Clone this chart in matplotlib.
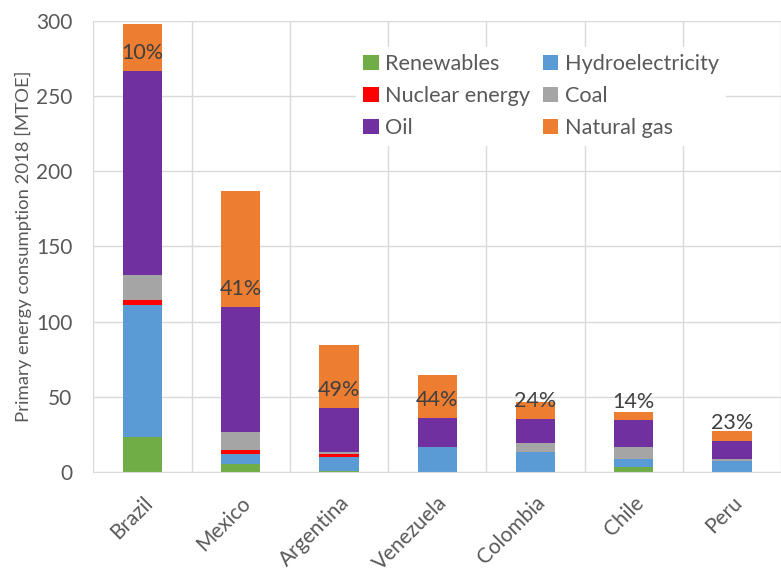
import numpy as np
import matplotlib
matplotlib.use("Agg")
import matplotlib.pyplot as plt
from matplotlib.patches import Patch

plt.rcParams["font.family"] = ["Lato", "DejaVu Sans"]

countries = ["Brazil", "Mexico", "Argentina", "Venezuela", "Colombia", "Chile", "Peru"]

# primary energy consumption 2018, MTOE
renewables = [23.5, 5.1, 0.6, 0.1, 0.2, 3.3, 0.3]
hydro = [87.5, 6.9, 9.5, 16.3, 13.3, 5.3, 7.2]
nuclear = [3.3, 2.6, 1.6, 0.0, 0.0, 0.0, 0.0]
coal = [16.6, 12.2, 1.4, 0.1, 5.8, 7.8, 0.9]
oil = [135.5, 83.0, 29.7, 19.4, 16.0, 17.9, 12.4]
gas = [31.1, 77.0, 41.8, 28.6, 11.3, 5.6, 6.2]

series = [
    ("Renewables", renewables, "#70AD47"),
    ("Hydroelectricity", hydro, "#5B9BD5"),
    ("Nuclear energy", nuclear, "#FF0000"),
    ("Coal", coal, "#A5A5A5"),
    ("Oil", oil, "#7030A0"),
    ("Natural gas", gas, "#ED7D31"),
]

text_col = "#595959"
grid_col = "#D9D9D9"

fig = plt.figure(figsize=(7.81, 5.71), dpi=100)
ax = fig.add_axes([0.1195, 0.1734, 0.8805, 0.7904])

x = np.arange(len(countries))
bottom = np.zeros(len(countries))
for name, vals, col in series:
    vals = np.array(vals)
    ax.bar(x, vals, 0.4, bottom=bottom, color=col, label=name, zorder=2)
    bottom += vals

# share of natural gas, written just above the base of the gas segment
gas_base = bottom - np.array(gas)
for xi, base, g, tot in zip(x, gas_base, gas, bottom):
    ax.annotate(f"{round(100 * g / tot):.0f}%", (xi, base), xytext=(0, 13),
                textcoords="offset points", ha="center", va="center",
                fontsize=15.5, color="#404040", zorder=4)

ax.set_xlim(-0.5, 6.44)
ax.set_ylim(0, 300)
ax.set_yticks(np.arange(0, 301, 50))
ax.set_xticks(x)
ax.set_xticklabels(countries, rotation=45, ha="right", rotation_mode="anchor")
ax.set_xticks(np.arange(-0.5, 7, 1), minor=True)

ax.grid(axis="y", which="major", color=grid_col, lw=1, zorder=0)
ax.grid(axis="x", which="minor", color=grid_col, lw=1, zorder=0)
ax.tick_params(axis="both", which="both", length=0, labelsize=15, colors=text_col)
ax.tick_params(axis="y", pad=15)
ax.tick_params(axis="x", pad=15)
for s in ["top", "right", "left"]:
    ax.spines[s].set_visible(False)
ax.spines["bottom"].set_color(grid_col)

ax.set_ylabel("Primary energy consumption 2018 [MTOE]", fontsize=13.3, color=text_col, labelpad=3)

# legend filled row by row: two columns
order = [0, 2, 4, 1, 3, 5]
handles = [Patch(facecolor=series[i][2], label=series[i][0]) for i in order]
leg = ax.legend(handles=handles, ncol=2, loc="upper left", bbox_to_anchor=(0.366, 0.966),
                frameon=True, fancybox=False, framealpha=1, edgecolor="none",
                fontsize=15.6, handlelength=0.7, handleheight=0.7, handletextpad=0.3,
                columnspacing=0.6, labelspacing=0.55, borderpad=0.35)
for t in leg.get_texts():
    t.set_color(text_col)
leg.set_zorder(3)

fig.savefig("out.png", dpi=100)
